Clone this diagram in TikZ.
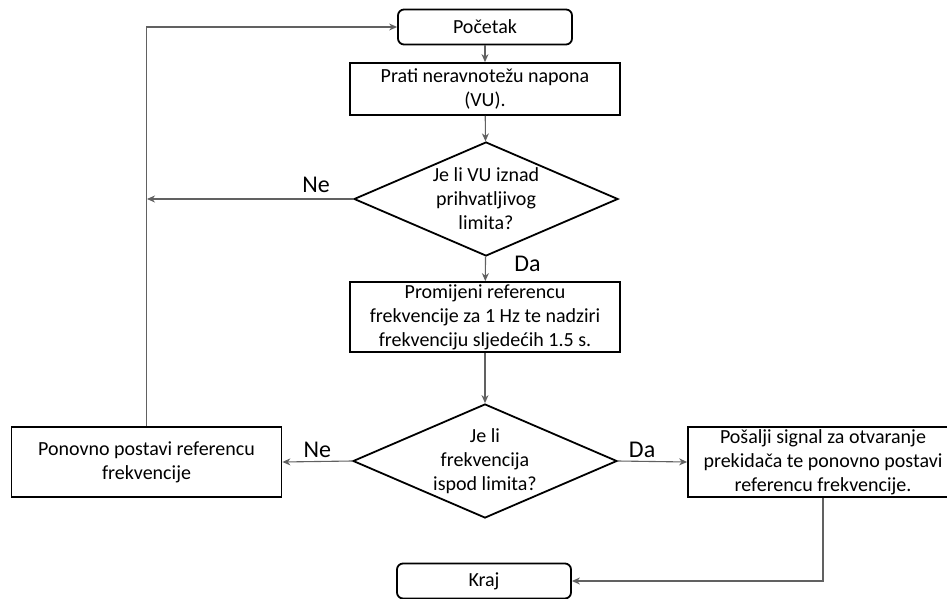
\documentclass[tikz,border=0pt]{standalone}
\usepackage{fontspec}
\setmainfont{Carlito}
\usetikzlibrary{shapes.geometric,positioning,arrows.meta}

\tikzset{
  every box/.style={draw, line width=1.8pt, align=center, font=\fontsize{20}{24}\selectfont},
  terminal/.style={every box/.try, rounded corners=6pt, minimum width=174pt, minimum height=35pt},
  process/.style={every box/.try, minimum width=270pt, minimum height=70pt, inner sep=1pt},
  decision/.style={draw, line width=1.8pt, diamond, minimum width=264pt, minimum height=114pt, inner sep=0pt},
  decision text/.style={align=center, font=\fontsize{20}{24}\selectfont},
  answer/.style={font=\fontsize{24}{28}\selectfont},
  flow/.style={draw=black!62, line width=1.1pt}
}

\begin{document}
\begin{tikzpicture}[x=1pt, y=-1pt, >={Stealth[length=8pt,width=7pt]}]

\useasboundingbox (0,0) rectangle (947,599);

\node [terminal] (start) at (485,27) {Početak};
\node [process, minimum height=52pt] (monitor) at (485,89) {Prati neravnotežu napona\\(VU).};

\node [decision] (vu-check) at (486,199) {};
\node [decision text] (vu-check-text) at (vu-check) {Je li VU iznad\\prihvatljivog\\limita?};

\node [process] (change-ref) at (485,317) {Promijeni referencu\\frekvencije za 1 Hz te nadziri\\frekvenciju sljedećih 1.5 s.};

\node [decision] (freq-check) at (485,461) {};
\node [decision text] (freq-check-text) at (freq-check) {Je li\\frekvencija\\ispod limita?};

\node [process] (reset-ref) at (146.5,462) {Ponovno postavi referencu\\frekvencije};
\node [process] (send-signal) at (823,462) {Pošalji signal za otvaranje\\prekidača te ponovno postavi\\referencu frekvencije.};

\node [terminal] (end) at (484,581) {Kraj};

\coordinate (loop-in) at (147,199);

% main line
\draw [flow, ->] (start) -- (monitor);
\draw [flow, ->] (monitor) -- (vu-check);
\draw [flow, ->] (vu-check) -- (change-ref)
  node [answer, pos=0.3, right=25pt] (vu-yes) {Da};
\draw [flow, ->] (change-ref) -- (freq-check);

% branches
\draw [flow, ->] (vu-check.west) -- (loop-in)
  node [answer, pos=0.18, above=2pt] (vu-no) {Ne};
\draw [flow, ->] (reset-ref.north) |- (start.west);
\draw [flow, ->] (freq-check.west) -- (reset-ref.east)
  node [answer, midway, above=0pt] (freq-no) {Ne};
\draw [flow, ->] (freq-check.east) -- (send-signal.west)
  node [answer, pos=0.35, above=0pt] (freq-yes) {Da};
\draw [flow, ->] (send-signal.south) |- (end.east);

\end{tikzpicture}
\end{document}
